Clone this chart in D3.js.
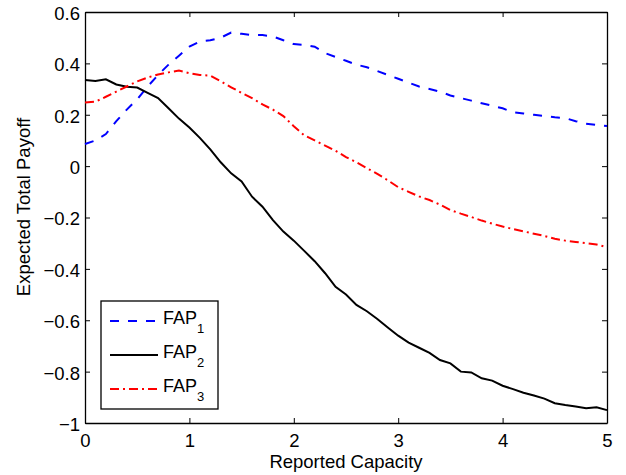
<!DOCTYPE html>
<html>
<head>
<meta charset="utf-8">
<script src="https://cdn.jsdelivr.net/npm/d3@7"></script>
<style>
  body { margin: 0; background: #fff; }
  svg { display: block; font-family: "Liberation Sans", Arial, sans-serif; }
</style>
</head>
<body>
<div id="chart"></div>
<script>
// reported capacity (x)
var capacity = [0, 0.1, 0.2, 0.3, 0.4, 0.5, 0.6, 0.7, 0.8, 0.9,
  1.0, 1.1, 1.2, 1.3, 1.4, 1.5, 1.6, 1.7, 1.8, 1.9,
  2.0, 2.1, 2.2, 2.3, 2.4, 2.5, 2.6, 2.7, 2.8, 2.9,
  3.0, 3.1, 3.2, 3.3, 3.4, 3.5, 3.6, 3.7, 3.8, 3.9,
  4.0, 4.1, 4.2, 4.3, 4.4, 4.5, 4.6, 4.7, 4.8, 4.9, 5.0];

var fap1 = [0.086, 0.100, 0.125, 0.175, 0.22, 0.26, 0.31, 0.355, 0.395, 0.43,
  0.465, 0.485, 0.49, 0.50, 0.52, 0.515, 0.51, 0.51, 0.505, 0.49,
  0.475, 0.472, 0.465, 0.44, 0.425, 0.41, 0.395, 0.385, 0.37, 0.355,
  0.34, 0.325, 0.31, 0.30, 0.29, 0.275, 0.265, 0.255, 0.245, 0.235,
  0.225, 0.21, 0.205, 0.20, 0.195, 0.19, 0.187, 0.175, 0.165, 0.16, 0.156];

var fap2 = [0.335, 0.331, 0.338, 0.318, 0.309, 0.306, 0.285, 0.265, 0.225, 0.185,
  0.15, 0.11, 0.065, 0.015, -0.028, -0.06, -0.119, -0.158, -0.21, -0.255,
  -0.29, -0.33, -0.37, -0.417, -0.47, -0.50, -0.54, -0.565, -0.595, -0.628,
  -0.66, -0.687, -0.707, -0.727, -0.755, -0.768, -0.80, -0.803, -0.826, -0.835,
  -0.855, -0.868, -0.882, -0.893, -0.905, -0.923, -0.93, -0.936, -0.943, -0.939, -0.95];

var fap3 = [0.248, 0.251, 0.27, 0.29, 0.31, 0.33, 0.345, 0.357, 0.365, 0.372,
  0.362, 0.355, 0.352, 0.33, 0.307, 0.285, 0.265, 0.24, 0.22, 0.195,
  0.155, 0.12, 0.10, 0.08, 0.06, 0.035, 0.015, -0.008, -0.03, -0.055,
  -0.082, -0.10, -0.118, -0.132, -0.15, -0.171, -0.185, -0.198, -0.212, -0.224,
  -0.235, -0.245, -0.254, -0.263, -0.272, -0.283, -0.29, -0.295, -0.30, -0.305, -0.316];

var xTicks = [0, 1, 2, 3, 4, 5];
var yTicks = [0.6, 0.4, 0.2, 0, -0.2, -0.4, -0.6, -0.8, -1];

var series = [
  {name: "FAP", sub: "1", values: fap1, color: "#0000ff", dash: "9,9"},
  {name: "FAP", sub: "2", values: fap2, color: "#000000", dash: null},
  {name: "FAP", sub: "3", values: fap3, color: "#ff0000", dash: "9,4,2,4"}
];

var width = 626, height = 475;
var margin = {top: 12, right: 19, bottom: 52, left: 85};
var plotW = width - margin.left - margin.right,
    plotH = height - margin.top - margin.bottom;
var fontSize = 18.5;

var svg = d3.select("#chart").append("svg")
  .attr("width", width)
  .attr("height", height);

var g = svg.append("g")
  .attr("transform", "translate(" + margin.left + "," + margin.top + ")");

var x = d3.scaleLinear().domain([0, 5]).range([0, plotW]);
var y = d3.scaleLinear().domain([-1, 0.6]).range([plotH, 0]);

var fmt = function(d) { return d === 0 ? "0" : (d === -1 ? "\u22121" : d3.format(".1f")(d).replace("-", "\u2212")); };

// axes: ticks inside, MATLAB style
var bottomAxis = g.append("g")
  .attr("transform", "translate(0," + plotH + ")")
  .call(d3.axisBottom(x).tickValues(xTicks).tickSizeInner(-5).tickSizeOuter(0).tickFormat(d3.format("d")));
var leftAxis = g.append("g")
  .call(d3.axisLeft(y).tickValues(yTicks).tickSizeInner(-5).tickSizeOuter(0).tickPadding(5).tickFormat(fmt));
var topAxis = g.append("g")
  .call(d3.axisTop(x).tickValues(xTicks).tickSizeInner(-5).tickSizeOuter(0).tickFormat(""));
var rightAxis = g.append("g")
  .attr("transform", "translate(" + plotW + ",0)")
  .call(d3.axisRight(y).tickValues(yTicks).tickSizeInner(-5).tickSizeOuter(0).tickFormat(""));

[bottomAxis, leftAxis, topAxis, rightAxis].forEach(function(a) {
  a.select(".domain").attr("stroke", "#000").attr("stroke-width", 1.3);
  a.selectAll(".tick line").attr("stroke", "#000").attr("stroke-width", 1);
  a.selectAll("text").attr("font-size", fontSize).attr("fill", "#000")
    .attr("font-family", "Liberation Sans, Arial, sans-serif");
});
bottomAxis.selectAll("text").attr("dy", 0).attr("y", 24);
leftAxis.selectAll("text").attr("dy", "0.4em");

// lines
var line = d3.line()
  .x(function(d, i) { return x(capacity[i]); })
  .y(function(d) { return y(d); });

series.forEach(function(s) {
  g.append("path")
    .datum(s.values)
    .attr("fill", "none")
    .attr("stroke", s.color)
    .attr("stroke-width", 2)
    .attr("stroke-dasharray", s.dash)
    .attr("d", line);
});

// axis labels
svg.append("text")
  .attr("x", margin.left + plotW / 2)
  .attr("y", 468)
  .attr("text-anchor", "middle")
  .attr("font-size", fontSize)
  .text("Reported Capacity");

svg.append("text")
  .attr("transform", "translate(29.5,207) rotate(-90)")
  .attr("text-anchor", "middle")
  .attr("font-size", fontSize)
  .text("Expected Total Payoff");

// legend
var legend = svg.append("g").attr("transform", "translate(101,301)");
legend.append("rect")
  .attr("width", 117).attr("height", 108)
  .attr("fill", "#fff").attr("stroke", "#000").attr("stroke-width", 1.3);

series.forEach(function(s, i) {
  var row = legend.append("g").attr("transform", "translate(0," + (20 + i * 34) + ")");
  row.append("line")
    .attr("x1", 9).attr("x2", 57)
    .attr("stroke", s.color).attr("stroke-width", 2)
    .attr("stroke-dasharray", s.dash);
  var t = row.append("text")
    .attr("x", 62).attr("y", 3)
    .attr("font-size", 18);
  t.append("tspan").text(s.name);
  t.append("tspan").attr("dy", 9).attr("font-size", 13).text(s.sub);
});
</script>
</body>
</html>
